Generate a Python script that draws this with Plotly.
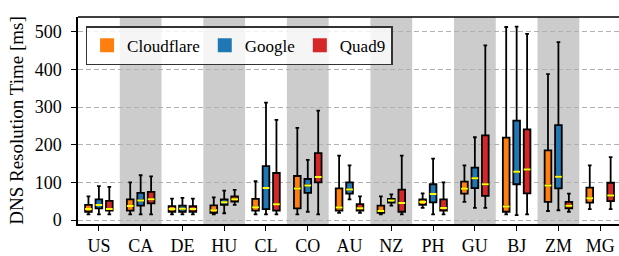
import plotly.graph_objects as go

countries = ["US", "CA", "DE", "HU", "CL", "CO", "AU", "NZ", "PH", "GU", "BJ", "ZM", "MG"]
shaded = ["CA", "HU", "CO", "NZ", "GU", "ZM"]

# Cloudflare: lower whisker, q1, median, q3, upper whisker
cf_low = [15, 15, 15, 15, 15, 15, 19, 15, 32, 48, 15, 24, 29]
cf_q1 = [22, 25, 22, 19, 25, 31, 25, 19, 40, 70, 22, 48, 46]
cf_med = [29, 37, 29, 26, 34, 84, 33, 24, 48, 83, 36, 92, 58]
cf_q3 = [40, 55, 37, 39, 56, 117, 84, 38, 55, 102, 219, 185, 86]
cf_high = [63, 100, 57, 60, 103, 245, 171, 63, 71, 145, 513, 388, 145]

# Google (no data for MG)
gg_countries = ["US", "CA", "DE", "HU", "CL", "CO", "AU", "NZ", "PH", "GU", "BJ", "ZM"]
gg_low = [15, 15, 15, 18, 15, 22, 55, 38, 15, 32, 13, 26]
gg_q1 = [31, 38, 22, 40, 29, 72, 70, 46, 47, 85, 95, 84]
gg_med = [40, 52, 30, 47, 85, 92, 81, 52, 69, 111, 128, 115]
gg_q3 = [55, 72, 38, 55, 143, 109, 100, 56, 95, 139, 264, 252]
gg_high = [90, 119, 59, 78, 312, 160, 145, 68, 163, 220, 514, 473]

# Quad9
q9_low = [15, 15, 15, 40, 15, 15, 19, 15, 15, 32, 15, 22, 29]
q9_q1 = [25, 44, 22, 49, 25, 100, 25, 22, 25, 64, 71, 31, 50]
q9_med = [29, 55, 29, 55, 42, 114, 31, 45, 32, 95, 134, 38, 65]
q9_q3 = [51, 75, 37, 63, 125, 178, 42, 81, 55, 225, 241, 48, 99]
q9_high = [88, 116, 57, 80, 266, 291, 63, 171, 100, 464, 495, 70, 167]

y_ticks = [0, 100, 200, 300, 400, 500]

series = [
    ("Cloudflare", "#ff7f0e", countries, cf_low, cf_q1, cf_med, cf_q3, cf_high),
    ("Google", "#1f77b4", gg_countries, gg_low, gg_q1, gg_med, gg_q3, gg_high),
    ("Quad9", "#d62728", countries, q9_low, q9_q1, q9_med, q9_q3, q9_high),
]

FONT = "Liberation Serif, DejaVu Serif, serif"

fig = go.Figure()
for name, color, xs, lo, q1, med, q3, hi in series:
    fig.add_trace(go.Box(
        x=xs, q1=q1, median=med, q3=q3, lowerfence=lo, upperfence=hi,
        name=name, fillcolor=color, line=dict(color="black", width=1.8),
        whiskerwidth=0.55, offsetgroup=name, alignmentgroup="all",
        showlegend=False, boxpoints=False,
    ))
    fig.add_trace(go.Box(
        x=xs, q1=med, median=med, q3=med, lowerfence=med, upperfence=med,
        name=name + " median", fillcolor="rgba(0,0,0,0)",
        line=dict(color="#ffff00", width=2), whiskerwidth=0,
        offsetgroup=name, alignmentgroup="all", showlegend=False, boxpoints=False,
    ))
    fig.add_trace(go.Scatter(
        x=[None], y=[None], mode="markers", name=name,
        marker=dict(symbol="square", size=14, color=color, line=dict(width=0)),
    ))

shapes = []
for c in shaded:
    i = countries.index(c)
    shapes.append(dict(type="rect", xref="x", yref="paper", x0=i - 0.5, x1=i + 0.5,
                       y0=0, y1=1, fillcolor="#cccccc", line=dict(width=0), layer="below"))

fig.update_layout(
    width=619, height=256,
    margin=dict(l=78, r=0, t=17, b=30),
    paper_bgcolor="white", plot_bgcolor="white",
    boxmode="group", boxgap=0.25, boxgroupgap=0.36,
    font=dict(family=FONT, size=17, color="black"),
    shapes=shapes,
    legend=dict(
        orientation="h", x=0.014, y=0.955, xanchor="left", yanchor="top",
        bgcolor="rgba(255,255,255,0.8)", bordercolor="#333333", borderwidth=1.5,
        font=dict(family=FONT, size=17), itemwidth=30, tracegroupgap=0,
    ),
)
fig.update_xaxes(
    type="category", categoryorder="array", categoryarray=countries,
    range=[-0.5, 12.45], showgrid=False, showline=True, linecolor="black", linewidth=1.5,
    ticks="outside", ticklen=5, tickwidth=1.2, tickcolor="black", mirror=False,
    tickfont=dict(size=18),
)
fig.update_yaxes(
    range=[-10.6, 539.6], tickvals=y_ticks, showgrid=True, gridcolor="#b0b0b0",
    griddash="5px,3px", gridwidth=1.3, zeroline=False,
    showline=True, linecolor="black", linewidth=1.5,
    ticks="outside", ticklen=5, tickwidth=1.2, tickcolor="black",
    tickfont=dict(size=18), ticklabelstandoff=6,
    title=dict(text="DNS Resolution Time [ms]", font=dict(size=19), standoff=6),
)
# top frame line
fig.add_shape(type="line", xref="paper", yref="paper", x0=0, x1=1, y0=1, y1=1,
              line=dict(color="black", width=1.5), layer="above")

fig.write_html(
    "out.html",
    config={"displayModeBar": False},
    post_script="document.body.style.margin='0';document.body.style.padding='0';document.body.style.overflow='hidden';",
)
